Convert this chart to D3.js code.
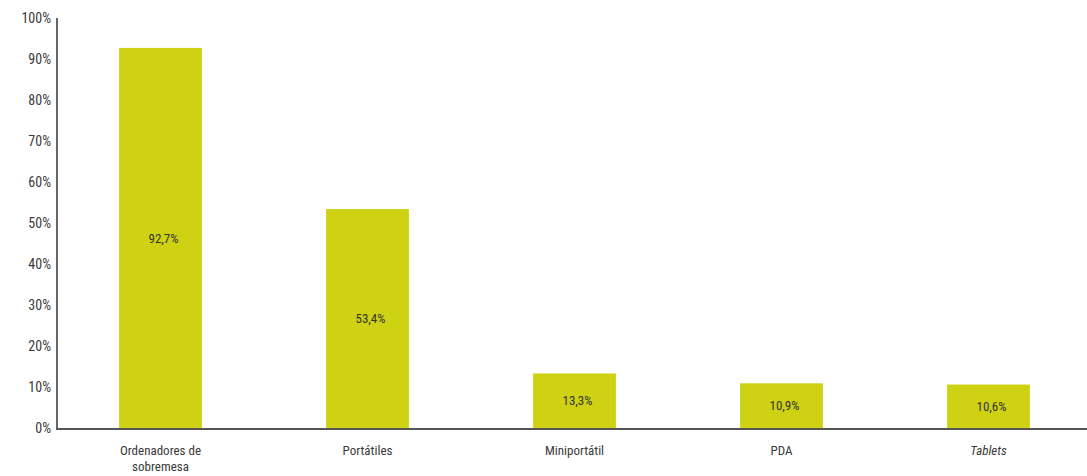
<!DOCTYPE html>
<html>
<head>
<meta charset="utf-8">
<script src="https://cdn.jsdelivr.net/npm/d3@7"></script>
<style>
  html, body { margin: 0; padding: 0; background: #fff; }
  svg text { font-family: "Liberation Sans Narrow", "Roboto Condensed", "Arial Narrow", sans-serif; fill: #3a3a3a; }
</style>
</head>
<body>
<svg id="chart" width="1087" height="476"></svg>
<script>
// Device ownership by type (percent)
const categories = ["Ordenadores de|sobremesa", "Portátiles", "Miniportátil", "PDA", "Tablets"];
const values = [92.7, 53.4, 13.3, 10.9, 10.6];
const valueLabels = ["92,7%", "53,4%", "13,3%", "10,9%", "10,6%"];
const italicCategories = ["Tablets"];
const yTicks = [0, 10, 20, 30, 40, 50, 60, 70, 80, 90, 100];

const svg = d3.select("#chart");
const plotLeft = 57, plotRight = 1092, plotTop = 18, plotBottom = 428;

const x = d3.scaleBand()
  .domain(categories)
  .range([plotLeft, plotRight])
  .paddingInner(0.6)
  .paddingOuter(0.3);

const y = d3.scaleLinear().domain([0, 100]).range([plotBottom, plotTop]);

// bars
svg.selectAll("rect.bar")
  .data(categories)
  .join("rect")
  .attr("class", "bar")
  .attr("x", d => x(d))
  .attr("width", x.bandwidth())
  .attr("y", (d, i) => y(values[i]))
  .attr("height", (d, i) => y(0) - y(values[i]))
  .attr("fill", "#cfd213");

// value labels centred in each bar
svg.selectAll("text.val")
  .data(categories)
  .join("text")
  .attr("class", "val")
  .attr("x", d => x(d) + x.bandwidth() / 2 + 3)
  .attr("y", (d, i) => (y(values[i]) + y(0)) / 2)
  .attr("dy", "0.35em")
  .attr("text-anchor", "middle")
  .style("font-size", "13px")
  .style("fill", "#333")
  .text((d, i) => valueLabels[i]);

// y axis
const yAxis = d3.axisLeft(y)
  .tickValues(yTicks)
  .tickSize(0)
  .tickPadding(6)
  .tickFormat(d => d + "%");
const gy = svg.append("g").attr("transform", `translate(${plotLeft},0)`).call(yAxis);
gy.select(".domain").remove();
gy.selectAll("text").style("font-size", "14px");

svg.append("line")
  .attr("x1", plotLeft).attr("x2", plotLeft)
  .attr("y1", plotTop).attr("y2", plotBottom + 1)
  .attr("stroke", "#666").attr("stroke-width", 2);

// x axis
const xAxis = d3.axisBottom(x).tickSize(0).tickFormat("");
const gx = svg.append("g").attr("transform", `translate(0,${plotBottom})`).call(xAxis);
gx.select(".domain").remove();
svg.append("line")
  .attr("x1", plotLeft - 1).attr("x2", 1087)
  .attr("y1", plotBottom + 1).attr("y2", plotBottom + 1)
  .attr("stroke", "#555").attr("stroke-width", 2);

// category labels (multi-line)
svg.selectAll("text.cat")
  .data(categories)
  .join("text")
  .attr("class", "cat")
  .attr("text-anchor", "middle")
  .attr("x", d => x(d) + x.bandwidth() / 2)
  .attr("y", 455)
  .style("font-size", "13px")
  .style("font-style", d => italicCategories.includes(d) ? "italic" : "normal")
  .each(function(d) {
    const lines = d.split("|");
    d3.select(this).selectAll("tspan")
      .data(lines)
      .join("tspan")
      .attr("x", x(d) + x.bandwidth() / 2)
      .attr("dy", (l, i) => i === 0 ? 0 : 16)
      .text(l => l);
  });
</script>
</body>
</html>
